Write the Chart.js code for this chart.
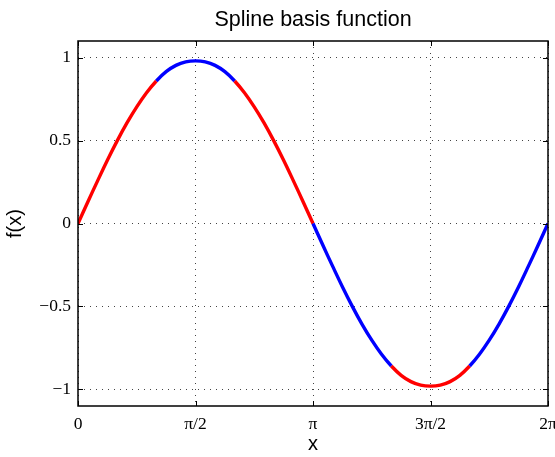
<!DOCTYPE html>
<html>
<head>
<meta charset="utf-8">
<script src="https://cdn.jsdelivr.net/npm/chart.js@4"></script>
<style>
  html, body { margin: 0; padding: 0; background: #fff; }
  #wrap { width: 555px; height: 457px; }
</style>
</head>
<body>
<div id="wrap"><canvas id="grafico" width="555" height="457"></canvas></div>
<script>
// dados (x em radianos, passo pi/24)
const xs = [0, 0.1309, 0.2618, 0.3927, 0.5236, 0.6545, 0.7854, 0.9163, 1.0472, 1.1781, 1.3090, 1.4399,
  1.5708, 1.7017, 1.8326, 1.9635, 2.0944, 2.2253, 2.3562, 2.4871, 2.6180, 2.7489, 2.8798, 3.0107,
  3.1416, 3.2725, 3.4034, 3.5343, 3.6652, 3.7961, 3.9270, 4.0579, 4.1888, 4.3197, 4.4506, 4.5815,
  4.7124, 4.8433, 4.9742, 5.1051, 5.2360, 5.3669, 5.4978, 5.6287, 5.7596, 5.8905, 6.0214, 6.1523, 6.2832];
const ys = [0, 0.130, 0.257, 0.381, 0.498, 0.606, 0.703, 0.788, 0.859, 0.915, 0.953, 0.974,
  0.980, 0.974, 0.953, 0.915, 0.859, 0.788, 0.703, 0.606, 0.498, 0.381, 0.257, 0.130,
  0, -0.130, -0.257, -0.381, -0.498, -0.606, -0.703, -0.788, -0.859, -0.915, -0.953, -0.974,
  -0.980, -0.974, -0.953, -0.915, -0.859, -0.788, -0.703, -0.606, -0.498, -0.381, -0.257, -0.130, 0];
// trechos em vermelho (indices dos pontos)
const redRanges = [[0, 8], [16, 24], [32, 40]];

const xTicks = [0, 1.5708, 3.1416, 4.7124, 6.2832];
const xTickLabels = ["0", "\u03c0/2", "\u03c0", "3\u03c0/2", "2\u03c0"];
const yTicks = [-1, -0.5, 0, 0.5, 1];
const yTickLabels = ["\u22121", "\u22120.5", "0", "0.5", "1"];

const titulo = "Spline basis function";

function isRed(i) {
  return redRanges.some(r => i >= r[0] && i < r[1]);
}

// moldura, marcas internas e titulo
const moldura = {
  id: 'moldura',
  afterDraw(chart) {
    const ctx = chart.ctx;
    const a = chart.chartArea;
    const sx = chart.scales.x, sy = chart.scales.y;
    ctx.save();
    ctx.strokeStyle = '#000';
    ctx.lineWidth = 1;
    ctx.beginPath();
    xTicks.forEach(v => {
      const p = Math.round(sx.getPixelForValue(v)) + 0.5;
      ctx.moveTo(p, a.bottom); ctx.lineTo(p, a.bottom - 5);
      ctx.moveTo(p, a.top); ctx.lineTo(p, a.top + 5);
    });
    yTicks.forEach(v => {
      const p = Math.round(sy.getPixelForValue(v)) + 0.5;
      ctx.moveTo(a.left, p); ctx.lineTo(a.left + 5, p);
      ctx.moveTo(a.right, p); ctx.lineTo(a.right - 5, p);
    });
    ctx.stroke();
    ctx.lineWidth = 1.5;
    ctx.strokeRect(a.left, a.top, a.right - a.left, a.bottom - a.top);
    ctx.fillStyle = '#000';
    ctx.font = '21.5px "Liberation Sans", Arial, sans-serif';
    ctx.textAlign = 'center';
    ctx.textBaseline = 'alphabetic';
    ctx.fillText(titulo, (a.left + a.right) / 2, 26);
    ctx.restore();
  }
};

const pontos = xs.map((x, i) => ({ x: x, y: ys[i] }));

new Chart(document.getElementById('grafico'), {
  type: 'line',
  data: {
    datasets: [{
      data: pontos,
      borderColor: '#0000ff',
      borderWidth: 3.4,
      pointRadius: 0,
      tension: 0.4,
      fill: false,
      segment: {
        borderColor: c => isRed(c.p0DataIndex) ? '#ff0000' : '#0000ff'
      }
    }]
  },
  options: {
    responsive: false,
    animation: false,
    layout: { padding: { top: 41, right: 7, left: 0, bottom: 0 } },
    plugins: { legend: { display: false }, tooltip: { enabled: false } },
    scales: {
      x: {
        type: 'linear',
        min: 0, max: 6.2832,
        afterBuildTicks: s => { s.ticks = xTicks.map(v => ({ value: v })); },
        afterFit: s => { s.height = 51; s.paddingLeft = 0; s.paddingRight = 0; },
        ticks: {
          autoSkip: false, maxRotation: 0, padding: 8,
          color: '#000',
          font: { family: '"Liberation Serif", "Times New Roman", serif', size: 17.5 },
          callback: (v, i) => xTickLabels[i]
        },
        grid: { color: '#444', lineWidth: 1, drawTicks: false },
        border: { display: false, dash: [1, 5] },
        title: {
          display: true, text: 'x', color: '#000',
          font: { family: '"Liberation Sans", Arial, sans-serif', size: 20 },
          padding: { top: 0, bottom: 1 }
        }
      },
      y: {
        type: 'linear',
        min: -1.1, max: 1.1,
        afterBuildTicks: s => { s.ticks = yTicks.map(v => ({ value: v })); },
        afterFit: s => { s.width = 78; s.paddingTop = 0; s.paddingBottom = 0; },
        ticks: {
          autoSkip: false, padding: 7,
          color: '#000',
          font: { family: '"Liberation Serif", "Times New Roman", serif', size: 17.5 },
          callback: (v, i) => yTickLabels[i]
        },
        grid: { color: '#444', lineWidth: 1, drawTicks: false },
        border: { display: false, dash: [1, 5] },
        title: {
          display: true, text: 'f(x)', color: '#000',
          font: { family: '"Liberation Sans", Arial, sans-serif', size: 20 },
          padding: { top: 3, bottom: 0 }
        }
      }
    }
  },
  plugins: [moldura]
});
</script>
</body>
</html>
